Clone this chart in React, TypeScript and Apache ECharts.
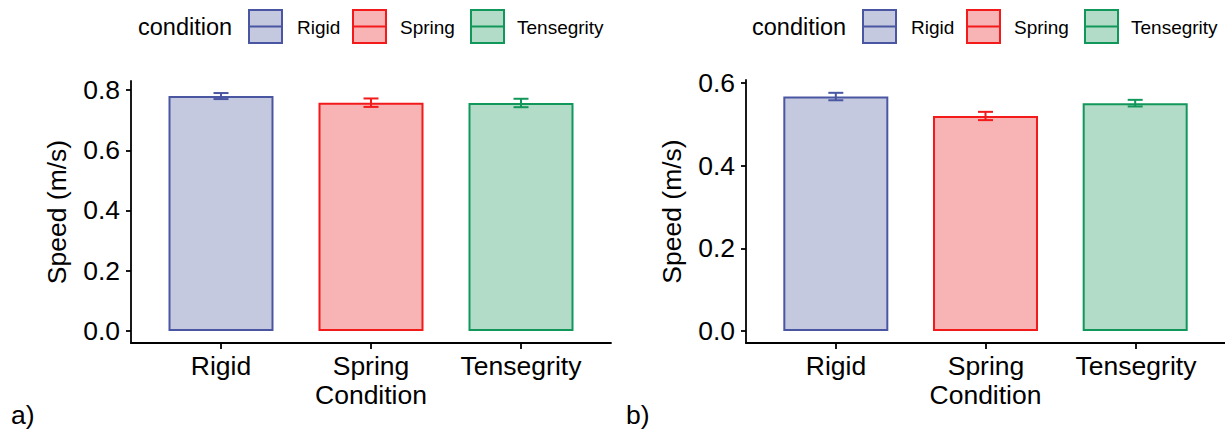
import React, { useEffect, useRef } from "react";
import * as echarts from "echarts";

const categories = ["Rigid", "Spring", "Tensegrity"];
const speedA = [0.78, 0.758, 0.757];
const errA = [0.01, 0.014, 0.014];
const speedB = [0.567, 0.52, 0.551];
const errB = [0.009, 0.01, 0.008];
const yTicksA = [0, 0.2, 0.4, 0.6, 0.8];
const yTicksB = [0, 0.2, 0.4, 0.6];

const borderColors = ["#4A56A2", "#F21A1A", "#12975A"];
const fillColors = ["#C4C9E0", "#F8B4B4", "#B3DCC8"];
const FONT = "'Liberation Sans', Arial, sans-serif";

export default function App() {
  const ref = useRef<HTMLDivElement>(null);
  useEffect(() => {
    document.body.style.margin = "0";
    const chart = echarts.init(ref.current!, null, { renderer: "svg" });

    // value x axis (positions bars like ggplot: 0.6 units of padding each side)
    const makeX = (gridIndex: number) => ({
      type: "value",
      gridIndex,
      min: 0.4,
      max: 3.6,
      splitLine: { show: false },
      axisLine: { show: true, onZero: false, lineStyle: { color: "#000", width: 1.8 } },
      axisTick: { show: false },
      axisLabel: { show: false },
      name: "Condition",
      nameLocation: "middle",
      nameGap: 38,
      nameTextStyle: { color: "#000", fontSize: 26.5, fontFamily: FONT },
    });
    // category overlay axis for tick marks and category labels
    const makeCatX = (gridIndex: number) => ({
      type: "category",
      gridIndex,
      position: "bottom",
      data: categories,
      boundaryGap: true,
      axisLine: { show: true, onZero: false, lineStyle: { color: "#000", width: 1.8 } },
      axisTick: { show: true, alignWithLabel: true, inside: false, length: 6, interval: 0, lineStyle: { color: "#000", width: 1.8 } },
      axisLabel: { show: true, color: "#000", fontSize: 26.5, fontFamily: FONT, margin: 9, interval: 0 },
      splitLine: { show: false },
    });
    const makeY = (gridIndex: number, min: number, max: number, ticks: number[]) => ({
      type: "value",
      gridIndex,
      min,
      max,
      splitLine: { show: false },
      axisLine: { show: true, onZero: false, lineStyle: { color: "#000", width: 1.8 } },
      axisTick: { show: true, customValues: ticks, length: 5, lineStyle: { color: "#000", width: 1.8 } },
      axisLabel: {
        show: true,
        customValues: ticks,
        formatter: (v: number) => v.toFixed(1),
        color: "#000",
        fontSize: 26.5,
        fontFamily: FONT,
        margin: 11,
      },
      name: "Speed (m/s)",
      nameLocation: "middle",
      nameGap: 61,
      nameRotate: 90,
      nameTextStyle: { color: "#000", fontSize: 26.5, fontFamily: FONT },
    });
    const hiddenY = (gridIndex: number) => ({
      type: "value",
      gridIndex,
      min: 0,
      max: 1,
      show: false,
    });

    const barSeries = (idx: number, values: number[]) => ({
      type: "bar",
      xAxisIndex: idx,
      yAxisIndex: idx,
      barWidth: 105,
      data: values.map((v, i) => ({
        value: [i + 1, v],
        itemStyle: { color: fillColors[i], borderColor: borderColors[i], borderWidth: 2 },
      })),
    });

    const errSeries = (idx: number, values: number[], errs: number[]) => ({
      type: "custom",
      xAxisIndex: idx,
      yAxisIndex: idx,
      z: 5,
      data: values.map((v, i) => [i + 1, v - errs[i], v + errs[i], i]),
      renderItem: (params: any, api: any) => {
        const x = api.value(0);
        const lo = api.coord([x, api.value(1)]);
        const hi = api.coord([x, api.value(2)]);
        const c = borderColors[api.value(3)];
        const half = 7.5;
        const st = { stroke: c, lineWidth: 2 };
        return {
          type: "group",
          children: [
            { type: "line", shape: { x1: lo[0], y1: lo[1], x2: hi[0], y2: hi[1] }, style: st },
            { type: "line", shape: { x1: lo[0] - half, y1: lo[1], x2: lo[0] + half, y2: lo[1] }, style: st },
            { type: "line", shape: { x1: hi[0] - half, y1: hi[1], x2: hi[0] + half, y2: hi[1] }, style: st },
          ],
        };
      },
    });

    const legend = (x0: number) => {
      const keys = [
        { bx: 249, tx: 297 },
        { bx: 353, tx: 400 },
        { bx: 471, tx: 517 },
      ];
      const els: any[] = [
        {
          type: "text",
          x: x0 + 138,
          y: 27,
          style: { text: "condition", fontSize: 23.5, fontFamily: FONT, fill: "#000", textVerticalAlign: "middle" },
        },
      ];
      keys.forEach((k, i) => {
        els.push({
          type: "rect",
          shape: { x: x0 + k.bx, y: 10, width: 33, height: 33 },
          style: { fill: fillColors[i], stroke: borderColors[i], lineWidth: 2 },
        });
        els.push({
          type: "line",
          shape: { x1: x0 + k.bx, y1: 26.5, x2: x0 + k.bx + 33, y2: 26.5 },
          style: { stroke: borderColors[i], lineWidth: 2 },
        });
        els.push({
          type: "text",
          x: x0 + k.tx,
          y: 27,
          style: { text: categories[i], fontSize: 19, fontFamily: FONT, fill: "#000", textVerticalAlign: "middle" },
        });
      });
      return els;
    };

    chart.setOption({
      animation: false,
      grid: [
        { left: 131, top: 81, width: 480, height: 262 },
        { left: 746, top: 80, width: 479, height: 263 },
        { left: 146, top: 81, width: 450, height: 262 },
        { left: 761, top: 80, width: 450, height: 263 },
      ],
      xAxis: [makeX(0), makeX(1), makeCatX(2), makeCatX(3)],
      yAxis: [makeY(0, -0.04, 0.83, yTicksA), makeY(1, -0.029, 0.607, yTicksB), hiddenY(2), hiddenY(3)],
      series: [barSeries(0, speedA), errSeries(0, speedA, errA), barSeries(1, speedB), errSeries(1, speedB, errB)],
      graphic: [
        ...legend(0),
        ...legend(614),
        { type: "text", x: 11, y: 415, style: { text: "a)", fontSize: 26.5, fontFamily: FONT, fill: "#000", textVerticalAlign: "middle" } },
        { type: "text", x: 626, y: 415, style: { text: "b)", fontSize: 26.5, fontFamily: FONT, fill: "#000", textVerticalAlign: "middle" } },
      ],
    });
    return () => chart.dispose();
  }, []);
  return <div ref={ref} style={{ width: 1225, height: 433 }} />;
}
